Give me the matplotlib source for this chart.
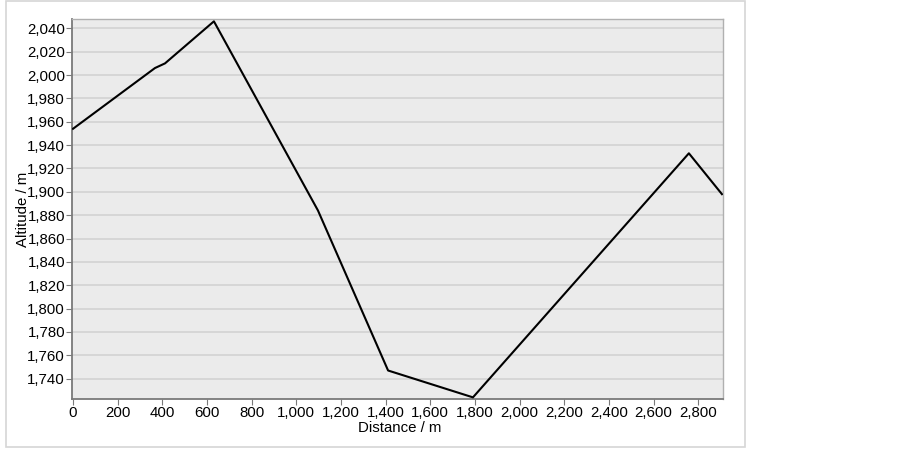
import matplotlib
matplotlib.use("Agg")
import matplotlib.pyplot as plt
from matplotlib.patches import Rectangle
from matplotlib.ticker import FuncFormatter, MultipleLocator

distance = [0, 367, 412, 631, 1097, 1411, 1791, 2758, 2906]
altitude = [1954, 2006, 2010, 2046, 1884, 1747, 1724, 1933, 1898]

plt.rcParams['font.family'] = ['Liberation Sans', 'DejaVu Sans']
W, H = 903, 449
fig = plt.figure(figsize=(W/100, H/100), dpi=100)
fig.patches.append(Rectangle((6/W, 1-447/H), (745-6)/W, (447-1)/H,
                             transform=fig.transFigure, fill=False,
                             edgecolor='#d6d6d6', linewidth=1.2))
ax = fig.add_axes([72/W, 1-399/H, (723.5-72)/W, (399-19)/H])
ax.set_facecolor('#ebebeb')
ax.plot(distance, altitude, color='black', linewidth=1.5, zorder=3)
ax.set_xlim(-4.5, 2913)
ax.set_ylim(1722.6, 2048)
ax.xaxis.set_major_locator(MultipleLocator(200))
ax.yaxis.set_major_locator(MultipleLocator(20))
fmt = FuncFormatter(lambda v, p: f"{int(round(v)):,}")
ax.xaxis.set_major_formatter(fmt)
ax.yaxis.set_major_formatter(fmt)
ax.grid(axis='y', color='#d2d2d2', linewidth=1.2)
ax.set_axisbelow(True)
for s in ['left', 'bottom']:
    ax.spines[s].set_color('#7a7a7a')
    ax.spines[s].set_linewidth(1.3)
for s in ['top', 'right']:
    ax.spines[s].set_color('#b0b0b0')
    ax.spines[s].set_linewidth(1.0)
ax.tick_params(axis='both', direction='out', length=4, color='#7a7a7a',
               labelsize=10.8, pad=1, labelcolor='black')
ax.set_xlabel('Distance / m', fontsize=10.8)
ax.set_ylabel('Altitude / m', fontsize=10.8)
ax.xaxis.set_label_coords((400 - 72) / 651.5, -(428 - 399) / 380, transform=ax.transAxes)
ax.yaxis.set_label_coords(-(72 - 23.5) / 651.5, 0.5, transform=ax.transAxes)
ax.xaxis.label.set_va('center')
ax.yaxis.label.set_va('center')
fig.savefig('out.png', dpi=100)
